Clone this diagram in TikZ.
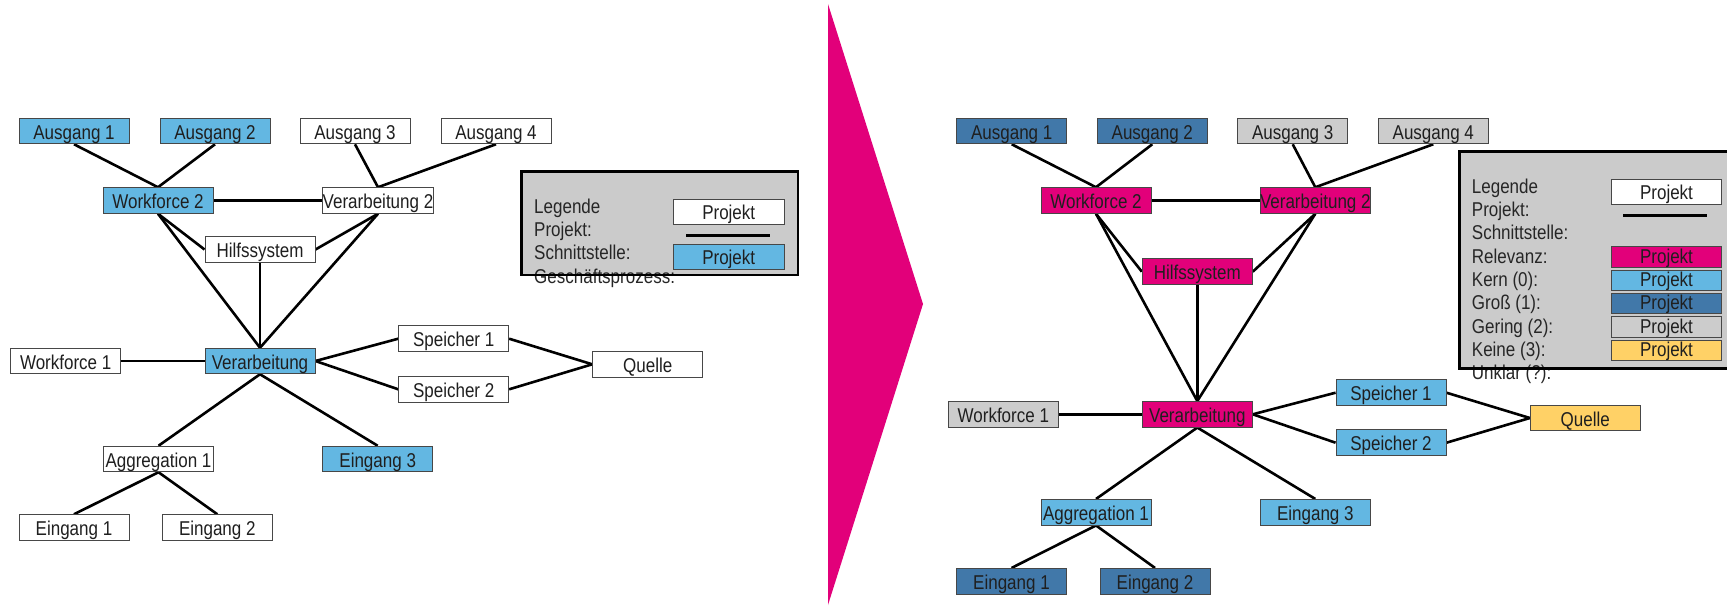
\documentclass[tikz,border=0pt]{standalone}
\usepackage{fontspec}
\setmainfont{Liberation Sans}[FakeStretch=0.85]
\usetikzlibrary{backgrounds}
\definecolor{kern}{HTML}{63B7E2}
\definecolor{gross}{HTML}{4178A9}
\definecolor{mag}{HTML}{E2007A}
\definecolor{gering}{HTML}{CCCCCC}
\definecolor{keine}{HTML}{FFD166}
\definecolor{legbg}{HTML}{CBCBCB}
\tikzset{
  box/.style={draw=black!72, line width=0.9pt, minimum width=110pt, minimum height=25.6pt,
    inner sep=0pt, text height=16pt, text depth=0pt, font=\fontsize{20}{23}\selectfont, text=black!88},
  wbox/.style={box, fill=white},
  kbox/.style={box, fill=kern},
  gbox/.style={box, fill=gross},
  mbox/.style={box, fill=mag},
  grbox/.style={box, fill=gering},
  ybox/.style={box, fill=keine},
  sbox/.style={minimum height=20.7pt, text height=13pt},
  conn/.style={line width=2.6pt, black},
  legtext/.style={anchor=base west, inner sep=0pt, font=\fontsize{20}{23}\selectfont, text=black!85},
  legframe/.style={line width=2.7pt, black},
}
\begin{document}
\begin{tikzpicture}[x=1pt,y=-1pt]
\clip (0,0) rectangle (1727,606);

% arrow
\fill[mag] (828,4) -- (923,304) -- (828,605) -- cycle;

% ---------- left panel ----------
\node[kbox] (LA1) at (74,131) {Ausgang 1};
\node[kbox] (LA2) at (215,131) {Ausgang 2};
\node[wbox] (LA3) at (355,131) {Ausgang 3};
\node[wbox] (LA4) at (496,131) {Ausgang 4};
\node[kbox] (LW2) at (158,200.5) {Workforce 2};
\node[wbox] (LV2) at (378,200.5) {Verarbeitung 2};
\node[wbox] (LH) at (260,249.5) {Hilfssystem};
\node[wbox] (LW1) at (65.7,361) {Workforce 1};
\node[kbox] (LV) at (260,361) {Verarbeitung};
\node[wbox] (LS1) at (453.7,338.7) {Speicher 1};
\node[wbox] (LS2) at (453.7,389.3) {Speicher 2};
\node[wbox] (LQ) at (647.7,364.3) {Quelle};
\node[wbox] (LAg) at (158.5,459) {Aggregation 1};
\node[kbox] (LE3) at (377.7,459) {Eingang 3};
\node[wbox] (LE1) at (74,527.5) {Eingang 1};
\node[wbox] (LE2) at (217.3,527.5) {Eingang 2};

% ---------- right panel ----------
\node[gbox] (RA1) at (1011.7,131) {Ausgang 1};
\node[gbox] (RA2) at (1152.3,131) {Ausgang 2};
\node[grbox] (RA3) at (1292.7,131) {Ausgang 3};
\node[grbox] (RA4) at (1433.3,131) {Ausgang 4};
\node[mbox] (RW2) at (1096,200.5) {Workforce 2};
\node[mbox] (RV2) at (1315.3,200.5) {Verarbeitung 2};
\node[mbox] (RH) at (1197.3,271.7) {Hilfssystem};
\node[grbox] (RW1) at (1003.3,414.3) {Workforce 1};
\node[mbox] (RV) at (1197.3,414.3) {Verarbeitung};
\node[kbox] (RS1) at (1391,392.7) {Speicher 1};
\node[kbox] (RS2) at (1391,442.7) {Speicher 2};
\node[ybox] (RQ) at (1585.3,418) {Quelle};
\node[kbox] (RAg) at (1096,512.2) {Aggregation 1};
\node[kbox] (RE3) at (1315.3,512.2) {Eingang 3};
\node[gbox] (RE1) at (1011.5,581.2) {Eingang 1};
\node[gbox] (RE2) at (1155,581.2) {Eingang 2};

\begin{scope}[on background layer]
\fill[white] (0,0) rectangle (1727,606);
\foreach \p in {L,R} {
  \draw[conn] (\p A1.south) -- (\p W2.north);
  \draw[conn] (\p A2.south) -- (\p W2.north);
  \draw[conn] (\p A3.south) -- (\p V2.north);
  \draw[conn] (\p A4.south) -- (\p V2.north);
  \draw[conn] (\p W2.east) -- (\p V2.west);
  \draw[conn] (\p W2.south) -- (\p H.west);
  \draw[conn] (\p V2.south) -- (\p H.east);
  \draw[conn] (\p W2.south) -- (\p V.north);
  \draw[conn] (\p V2.south) -- (\p V.north);
  \draw[conn] (\p H.south) -- (\p V.north);
  \draw[conn] (\p W1.east) -- (\p V.west);
  \draw[conn] (\p V.east) -- (\p S1.west);
  \draw[conn] (\p V.east) -- (\p S2.west);
  \draw[conn] (\p S1.east) -- (\p Q.west);
  \draw[conn] (\p S2.east) -- (\p Q.west);
  \draw[conn] (\p V.south) -- (\p Ag.north);
  \draw[conn] (\p V.south) -- (\p E3.north);
  \draw[conn] (\p Ag.south) -- (\p E1.north);
  \draw[conn] (\p Ag.south) -- (\p E2.north);
}
\end{scope}

% left legend
\fill[legbg] (521.7,171.7) rectangle (798,275);
\node[legtext] (LL1) at (534,213.3) {Legende};
\node[legtext] (LL2) at (534,236.6) {Projekt:};
\node[legtext] (LL3) at (534,259.9) {Schnittstelle:};
\node[legtext] (LL4) at (534,283.2) {Geschäftsprozess:};
\draw[legframe] (521.7,171.7) rectangle (798,275);
\node[wbox, minimum width=110.7pt, minimum height=24.7pt] (LPw) at (728.7,211.7) {Projekt};
\coordinate (LLa) at (686,235.3);
\coordinate (LLb) at (770,235.3);
\draw[line width=2.7pt] (LLa) -- (LLb);
\node[kbox, minimum width=110.7pt, minimum height=24.7pt] (LPb) at (728.7,256.7) {Projekt};

% right legend
\fill[legbg] (1459.3,151.7) rectangle (1745,368.3);
\node[legtext] (RL1) at (1471.7,193.3) {Legende};
\node[legtext] (RL2) at (1471.7,216.6) {Projekt:};
\node[legtext] (RL3) at (1471.7,239.9) {Schnittstelle:};
\node[legtext] (RL4) at (1471.7,263.2) {Relevanz:};
\node[legtext] (RL5) at (1471.7,286.5) {Kern (0):};
\node[legtext] (RL6) at (1471.7,309.8) {Groß (1):};
\node[legtext] (RL7) at (1471.7,333.1) {Gering (2):};
\node[legtext] (RL8) at (1471.7,356.4) {Keine (3):};
\node[legtext] (RL9) at (1471.7,379.7) {Unklar (?):};
\draw[legframe] (1459.3,151.7) rectangle (1745,368.3);
\node[wbox, minimum width=110.4pt, minimum height=25.3pt] (RPw) at (1666.5,191.7) {Projekt};
\coordinate (RLa) at (1623.3,215.3);
\coordinate (RLb) at (1707.3,215.3);
\draw[line width=2.7pt] (RLa) -- (RLb);
\node[mbox, sbox, minimum width=110.4pt] (RPm) at (1666.5,257) {Projekt};
\node[kbox, sbox, minimum width=110.4pt] (RPk) at (1666.5,280.3) {Projekt};
\node[gbox, sbox, minimum width=110.4pt] (RPg) at (1666.5,303.3) {Projekt};
\node[grbox, sbox, minimum width=110.4pt] (RPr) at (1666.5,326.7) {Projekt};
\node[ybox, sbox, minimum width=110.4pt] (RPy) at (1666.5,350.3) {Projekt};
\end{tikzpicture}
\end{document}
